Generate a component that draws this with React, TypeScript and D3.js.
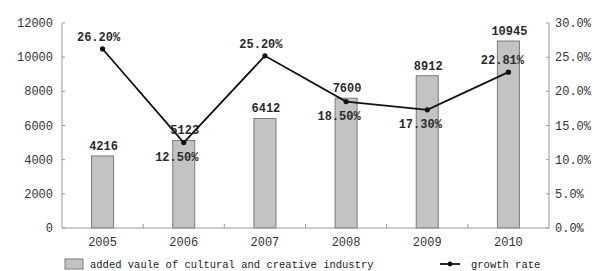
import React from "react";
import * as d3 from "d3";

const years = ["2005", "2006", "2007", "2008", "2009", "2010"];
const addedValue = [4216, 5123, 6412, 7600, 8912, 10945];
const growthRate = [26.2, 12.5, 25.2, 18.5, 17.3, 22.81];
const rateLabels = ["26.20%", "12.50%", "25.20%", "18.50%", "17.30%", "22.81%"];
const leftTicks = [0, 2000, 4000, 6000, 8000, 10000, 12000];
const rightTicks = [0, 5, 10, 15, 20, 25, 30];
// where the rate label sits relative to its point
const ratePlacement = ["above", "below", "above", "below", "below", "aboveLeft"];

const W = 598;
const H = 271;
const margin = { left: 62, right: 49, top: 23, bottom: 43 };
const mono = "'Liberation Mono', 'DejaVu Sans Mono', monospace";

export default function App() {
  const x = d3
    .scaleBand()
    .domain(years)
    .range([margin.left, W - margin.right]);
  const yL = d3.scaleLinear().domain([0, 12000]).range([H - margin.bottom, margin.top]);
  const yR = d3.scaleLinear().domain([0, 30]).range([H - margin.bottom, margin.top]);
  const cx = (i) => x(years[i]) + x.bandwidth() / 2;
  const barW = 22;

  const line = d3
    .line<number>()
    .x((d, i) => cx(i))
    .y((d) => yR(d));

  const y0 = yL(0);
  const rightX = W - margin.right;

  return (
    <div style={{ position: "absolute", left: 0, top: 0 }}>
      <svg width={W} height={H} style={{ display: "block", background: "#fff" }}>
        {/* bars */}
        {addedValue.map((v, i) => (
          <g key={years[i]}>
            <rect
              x={cx(i) - barW / 2}
              y={yL(v)}
              width={barW}
              height={y0 - yL(v)}
              fill="#c3c3c3"
              stroke="#7a7a7a"
              strokeWidth={1}
            />
            <text
              x={cx(i) + 1}
              y={yL(v) - 6}
              textAnchor="middle"
              style={{ fontFamily: mono, fontSize: 12, fontWeight: "bold", fill: "#2a2a2a" }}
            >
              {v}
            </text>
          </g>
        ))}

        {/* axes */}
        <line x1={margin.left} y1={margin.top} x2={margin.left} y2={y0} stroke="#999" />
        <line x1={rightX} y1={margin.top} x2={rightX} y2={y0} stroke="#999" />
        <line x1={margin.left} y1={y0} x2={rightX} y2={y0} stroke="#999" />
        {leftTicks.map((t) => (
          <g key={t}>
            <line x1={margin.left} x2={margin.left + 3} y1={yL(t)} y2={yL(t)} stroke="#999" />
            <text
              x={margin.left - 9}
              y={yL(t) + 4}
              textAnchor="end"
              style={{ fontFamily: mono, fontSize: 12, fill: "#333" }}
            >
              {t}
            </text>
          </g>
        ))}
        {rightTicks.map((t) => (
          <g key={t}>
            <line x1={rightX - 3} x2={rightX} y1={yR(t)} y2={yR(t)} stroke="#999" />
            <text
              x={rightX + 6}
              y={yR(t) + 4}
              textAnchor="start"
              style={{ fontFamily: mono, fontSize: 12, fill: "#333" }}
            >
              {t.toFixed(1) + "%"}
            </text>
          </g>
        ))}
        {years.slice(1).map((yr) => (
          <line key={yr} x1={x(yr)} x2={x(yr)} y1={y0} y2={y0 - 4} stroke="#999" />
        ))}
        {years.map((yr, i) => (
          <text
            key={yr}
            x={cx(i)}
            y={y0 + 18}
            textAnchor="middle"
            style={{ fontFamily: mono, fontSize: 12, fill: "#333" }}
          >
            {yr}
          </text>
        ))}

        {/* growth rate line */}
        <path d={line(growthRate)} fill="none" stroke="#111" strokeWidth={1.8} />
        {growthRate.map((r, i) => (
          <circle key={i} cx={cx(i)} cy={yR(r)} r={2.6} fill="#111" />
        ))}
        {growthRate.map((r, i) => {
          const p = ratePlacement[i];
          const dx = p === "aboveLeft" ? -6 : p === "below" ? -7 : -4;
          const dy = p === "below" ? 18 : -8;
          return (
            <text
              key={i}
              x={cx(i) + dx}
              y={yR(r) + dy}
              textAnchor="middle"
              style={{ fontFamily: mono, fontSize: 12, fontWeight: "bold", fill: "#2a2a2a" }}
            >
              {rateLabels[i]}
            </text>
          );
        })}

        {/* legend */}
        <rect x={65} y={259} width={18} height={10} fill="#c3c3c3" stroke="#7a7a7a" />
        <text x={90} y={267.5} style={{ fontFamily: mono, fontSize: 10.5, fill: "#222" }}>
          added vaule of cultural and creative industry
        </text>
        <line x1={440} x2={460} y1={264} y2={264} stroke="#111" strokeWidth={1.8} />
        <circle cx={450} cy={264} r={2.4} fill="#111" />
        <text x={471} y={267.5} style={{ fontFamily: mono, fontSize: 10.5, fill: "#222" }}>
          growth rate
        </text>
      </svg>
    </div>
  );
}
